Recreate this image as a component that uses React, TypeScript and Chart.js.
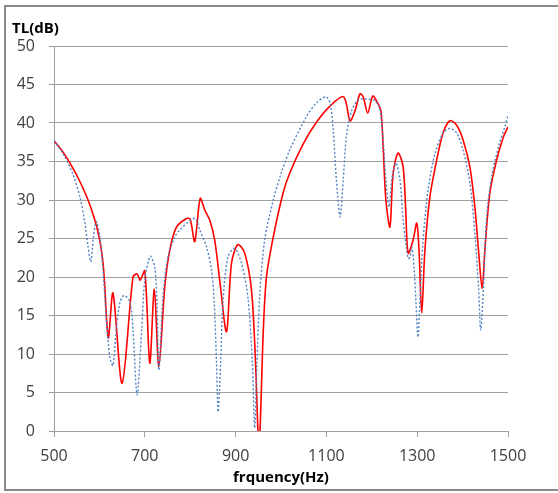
import React, { useEffect, useRef } from "react";
import { Chart, registerables } from "chart.js";

Chart.register(...registerables);

// Frequency (Hz) and TL (dB)
const redFreq = [
  500, 520, 540, 557, 575, 590, 601, 608, 612, 615.5, 620, 630, 650, 674, 683, 690, 700,
  711, 721, 731, 744, 755, 770, 792, 800, 810, 822, 832, 843, 854, 865, 880, 891,
  905, 920, 935, 944, 950, 953, 961, 968, 983, 1005, 1020, 1049, 1078, 1108, 1138,
  1152, 1163, 1174, 1181, 1191, 1202, 1211, 1220, 1225, 1231, 1240, 1247, 1258,
  1269, 1275, 1280, 1291, 1299, 1304, 1310, 1317, 1328, 1343, 1357, 1372, 1387,
  1401, 1416, 1427, 1435, 1443, 1449, 1460, 1475, 1490, 1500,
];
const redTL = [
  37.7, 36.2, 34.3, 32.4, 30, 27.4, 24.7, 21.8, 18.7, 14.8, 12.1, 17.9, 6.2, 20, 20.4, 19.6, 20.8,
  8.8, 18.4, 8.4, 18.7, 23.5, 26.5, 27.6, 27.5, 24.6, 30.2, 28.7, 27.4, 24.8, 19.6, 12.9, 21.8,
  24.2, 23.1, 18.3, 8.8, -1, -1, 13, 20, 25.2, 31, 33.6, 37.3, 40.1, 42.2, 43.4,
  40.3, 41.6, 43.8, 43.4, 41.3, 43.5, 42.8, 41.6, 36.9, 30, 26.5, 33.5, 36.1,
  34.3, 28.3, 23.1, 24.8, 27, 23.5, 15.3, 23.5, 30.4, 35.2, 38.7, 40.3, 39.7,
  37.8, 34.3, 29.1, 23.5, 18.5, 23.5, 30.9, 35.2, 38.2, 39.5,
];

const blueFreq = [
  500, 520, 540, 557, 568, 575, 581, 587, 593, 601, 608, 615, 623, 630, 637, 645, 654,
  667, 674, 683, 693, 700, 712, 722, 727, 731, 740, 751, 766, 777, 799, 812, 821,
  836, 847, 853, 858, 861.5, 867, 872, 883, 898, 913, 927, 937, 942, 947, 953, 964,
  983, 1000, 1020, 1056, 1078, 1099, 1108, 1115, 1122, 1130, 1137, 1144, 1155, 1170,
  1189, 1207, 1218, 1225, 1231, 1238, 1244, 1253, 1262, 1269, 1276, 1280, 1284,
  1288, 1293, 1297, 1301.6, 1306, 1313, 1324, 1339, 1357, 1372, 1387, 1401, 1416,
  1427, 1435, 1440, 1446, 1453, 1464, 1479, 1493, 1500,
];
const blueTL = [
  37.7, 36, 33.6, 30.4, 27, 23.9, 22, 25.2, 27.2, 25.2, 20.9, 14.8, 9.6, 8.5, 13.1, 16.6, 17.6,
  16.8, 13.1, 4.7, 13.1, 19.6, 22.7, 21.2, 16.1, 7.9, 17.4, 22.6, 25.2, 26.1, 27.3, 27.6, 26.1,
  23.9, 20.9, 16.6, 8.8, 2.5, 8.8, 16.6, 22.6, 23.7, 21.8, 17.4, 8.8, 0.4, 8.8, 17.4, 24.8,
  30, 33.4, 36.6, 40.8, 42.6, 43.4, 42.6, 39.1, 32.6, 27.8, 32.6, 38.2, 41.5, 43,
  43.1, 42.9, 41.7, 37.8, 32.6, 29.1, 32.6, 34.8, 32.6, 27.4, 23.9, 22.4, 22.6,
  23.9, 21.3, 17, 12.2, 17, 24.8, 31.3, 36, 38.7, 39.3, 38.7, 36.5, 32.2,
  25.7, 18.7, 13.1, 18.7, 27.8, 33, 36.9, 39.5, 41,
];

const xTicks = [500, 700, 900, 1100, 1300, 1500];
const yTicks = [0, 5, 10, 15, 20, 25, 30, 35, 40, 45, 50];

const gridColor = "#a0a0a0";
const labelColor = "#404040";
const frameColor = "#8a8a8a";

export default function App() {
  const ref = useRef<HTMLCanvasElement | null>(null);

  useEffect(() => {
    if (!ref.current) return;
    const chart = new Chart(ref.current, {
      type: "line",
      data: {
        datasets: [
          {
            label: "blue",
            data: blueFreq.map((f, i) => ({ x: f, y: blueTL[i] })),
            borderColor: "#4f83c2",
            borderWidth: 1.4,
            borderDash: [2, 2],
            pointRadius: 0,
            tension: 0.3,
            fill: false,
          },
          {
            label: "red",
            data: redFreq.map((f, i) => ({ x: f, y: redTL[i] })),
            borderColor: "#ff0000",
            borderWidth: 1.6,
            pointRadius: 0,
            tension: 0.3,
            fill: false,
          },
        ],
      },
      options: {
        animation: false,
        responsive: false,
        maintainAspectRatio: false,
        layout: { padding: { left: 0, top: 46, right: 50, bottom: 0 } },
        plugins: { legend: { display: false }, tooltip: { enabled: false }, title: { display: false } },
        scales: {
          x: {
            type: "linear",
            min: 500,
            max: 1500,
            afterBuildTicks: (s: any) => {
              s.ticks = xTicks.map((v) => ({ value: v }));
            },
            ticks: {
              color: labelColor,
              font: { family: "'Open Sans', sans-serif", size: 16 },
              padding: 10,
              maxRotation: 0,
              callback: (v: any) => String(v),
            },
            grid: { drawOnChartArea: false, drawTicks: true, tickLength: 6, color: gridColor },
            border: { color: gridColor },
            afterFit: (s: any) => {
              s.height = 62;
            },
          },
          y: {
            min: 0,
            max: 50,
            afterBuildTicks: (s: any) => {
              s.ticks = yTicks.map((v) => ({ value: v }));
            },
            ticks: {
              color: labelColor,
              font: { family: "'Open Sans', sans-serif", size: 16 },
              padding: 14,
              callback: (v: any) => String(v),
            },
            grid: { drawTicks: true, tickLength: 5, color: gridColor },
            border: { color: gridColor },
            afterFit: (s: any) => {
              s.width = 54;
            },
          },
        },
      },
    });
    return () => chart.destroy();
  }, []);

  return (
    <div style={{ position: "fixed", left: 0, top: 0, width: 558, height: 493, background: "#fff", overflow: "hidden" }}>
      <div style={{ position: "absolute", left: 4, top: 5, width: 554, height: 2, background: frameColor }} />
      <div style={{ position: "absolute", left: 4, top: 5, width: 2, height: 486, background: frameColor }} />
      <div style={{ position: "absolute", left: 4, top: 489, width: 554, height: 2, background: frameColor }} />
      <canvas ref={ref} width={558} height={493} style={{ position: "absolute", left: 0, top: 0, width: 558, height: 493 }} />
      <div
        style={{
          position: "absolute",
          left: 12,
          top: 16.5,
          font: "bold 15px 'Open Sans', sans-serif",
          color: "#000",
          whiteSpace: "nowrap",
        }}
      >
        TL(dB)
      </div>
      <div
        style={{
          position: "absolute",
          left: 54,
          width: 454,
          top: 466,
          textAlign: "center",
          font: "bold 15px 'Open Sans', sans-serif",
          color: "#000",
          whiteSpace: "nowrap",
        }}
      >
        frquency(Hz)
      </div>
    </div>
  );
}
